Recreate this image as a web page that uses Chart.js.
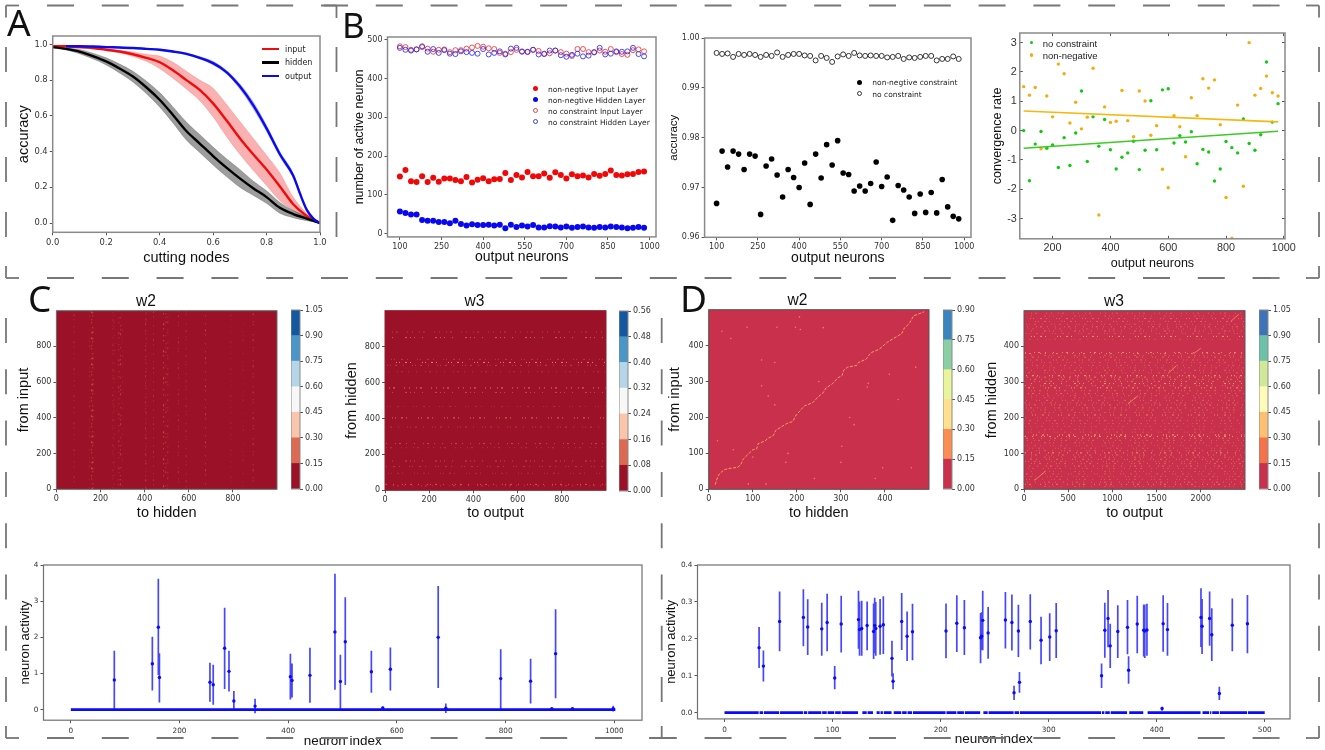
<!DOCTYPE html>
<html>
<head>
<meta charset="utf-8">
<title>figure</title>
<script src="https://cdn.jsdelivr.net/npm/chart.js"></script>
<style>
  html, body { margin: 0; padding: 0; background: #fff; }
  #fig { position: relative; width: 1325px; height: 750px; overflow: hidden; filter: blur(0.4px); }
  #fig canvas, #fig svg, #fig div { position: absolute; }
  #fig div { white-space: nowrap; line-height: 1; }
</style>
</head>
<body>
<div id="fig"></div>
<script>
// ---- A: accuracy vs cutting nodes
const cutX = [0,.05,.1,.15,.2,.25,.3,.35,.4,.45,.5,.55,.6,.65,.7,.75,.8,.85,.9,.95,1];
const inputMean = [.99,.99,.985,.98,.97,.96,.945,.925,.90,.855,.80,.745,.67,.575,.475,.385,.30,.205,.105,.04,0];
const inputHi = [.99,.992,.99,.985,.975,.967,.958,.945,.935,.90,.85,.80,.755,.665,.57,.475,.38,.28,.145,.055,0];
const inputLo = [.99,.988,.98,.975,.965,.953,.932,.905,.865,.81,.75,.685,.595,.485,.385,.295,.21,.125,.07,.025,0];
const hiddenMean = [.985,.975,.96,.935,.905,.865,.82,.76,.69,.605,.515,.445,.375,.31,.25,.195,.145,.085,.05,.025,0];
const hiddenHi = [.988,.981,.972,.951,.925,.89,.85,.795,.73,.65,.565,.495,.425,.36,.30,.235,.18,.115,.07,.037,0];
const hiddenLo = [.982,.969,.948,.919,.885,.84,.79,.725,.65,.56,.465,.395,.325,.26,.20,.155,.11,.055,.03,.013,0];
const outputX = [.05,.1,.15,.2,.25,.3,.35,.4,.45,.5,.55,.6,.65,.7,.75,.8,.85,.9,.925,.95,.975,1];
const outputMean = [.99,.99,.988,.985,.983,.98,.975,.97,.96,.947,.925,.895,.845,.765,.66,.53,.385,.265,.165,.075,.025,0];
const outputHi = [.991,.991,.99,.987,.985,.982,.978,.974,.965,.952,.932,.905,.855,.78,.68,.548,.40,.278,.173,.08,.028,0];
const outputLo = [.989,.989,.986,.983,.981,.978,.972,.966,.955,.942,.918,.885,.835,.75,.64,.512,.37,.252,.157,.07,.022,0];
const unitTicks = [0,.2,.4,.6,.8,1];

// ---- B: output neuron sweeps
const neurons = [100,120,140,160,180,200,220,240,260,280,300,320,340,360,380,400,420,440,460,480,500,520,540,560,580,600,620,640,660,680,700,720,740,760,780,800,820,840,860,880,900,920,940,960,980];
const nnInput = [147,164,135,133,148,133,144,134,142,142,138,135,146,132,139,143,135,140,141,156,138,151,145,159,148,148,155,144,158,151,142,153,148,150,145,154,149,154,163,151,150,153,154,159,160];
const nnHidden = [57,53,49,49,35,33,33,30,30,27,33,25,21,24,22,22,23,21,23,14,23,17,21,18,22,16,16,19,18,16,18,15,17,18,16,15,17,16,18,17,16,14,15,17,15];
const ncInput = [483,481,474,475,481,477,469,474,475,468,473,473,477,480,484,482,478,476,466,464,468,474,470,468,474,471,464,465,472,468,464,458,476,476,468,467,472,469,476,468,463,461,473,475,470];
const ncHidden = [479,474,472,475,483,469,476,466,473,464,463,470,468,466,464,476,462,466,470,462,477,479,469,469,474,462,463,472,472,460,456,461,464,457,459,468,479,462,464,470,469,470,479,463,457];
const accNonNeg = [.9668,.9773,.9741,.9773,.9767,.9736,.9767,.9763,.9646,.9743,.9757,.9725,.9681,.9736,.9720,.9700,.9749,.9666,.9767,.9719,.9786,.9745,.9794,.9729,.9726,.9693,.9703,.9693,.9708,.9751,.9702,.9721,.9634,.9704,.9695,.9681,.9648,.9687,.9650,.9690,.9649,.9716,.9661,.9642,.9637];
const accFree = [.9970,.9968,.9969,.9962,.9968,.9966,.9968,.9966,.9962,.9966,.9964,.9971,.9962,.9966,.9968,.9968,.9965,.9964,.9955,.9964,.9960,.9952,.9963,.9967,.9964,.9970,.9965,.9964,.9965,.9964,.9964,.9961,.9962,.9964,.9958,.9961,.9960,.9962,.9964,.9964,.9955,.9958,.9958,.9963,.9958];
const rateFree = [0,-1.71,-.46,-.03,-.60,-.49,-1.26,-.24,-1.19,-.08,1.35,-1.05,.47,-.53,.38,-.65,-1.31,-.91,-.76,-.36,-1.33,-.67,1.02,-.65,1.39,1.43,-.42,-.17,-.39,-.04,-1.13,-.64,-.73,-1.72,-1.31,-.37,-.58,-.76,.40,-.44,-.67,-.14,2.34,.29,.92];
const rateNonNeg = [1.50,1.21,1.47,-.62,1.18,.47,2.27,1.94,.26,.97,.06,.46,2.13,-2.88,.81,.28,.32,1.37,.34,-.21,1.35,1.01,-.16,.17,-1.32,-1.95,.51,.13,-.89,1.12,.51,1.77,1.45,1.73,.20,-2.28,-3.67,.87,-1.90,3.0,1.21,1.44,1.86,1.29,1.18];
const trendX = [100,980];
const trendFree = [-.60,-.02];
const trendNonNeg = [.67,.30];
const neuronTicks = [100,250,400,550,700,850,1000];

// ---- C / D: weight matrices (streak positions)
const cW2Cols = [80,150,160,165,256,262,283,291,300,404,407,440,486,496,505,553,588,676,791,846,892];
const cW2Strength = [.3,.2,.55,.55,.25,.2,.4,.4,.15,.3,.25,.3,.55,.35,.35,.3,.3,.4,.2,.2,.4];
const cW3Rows = [881,850,729,712,696,660,570,545,467,403,352,260,237,163,132,95,33,25];
const cW3Strength = [.3,.55,.3,.75,.35,.25,.7,.4,.2,.65,.3,.4,.25,.4,.3,.25,.5,.3];
const dW2DiagX = [15,20,25,36,46,65,72,79,89,100,109,112,127,136,147,152,165,177,191,197,208,217,236,248,260,266,281,293,303,306,315,336,340,357,368,387,406,425,438,444,455,465,489];
const dW2DiagY = [13,34,44,55,58,61,67,85,97,110,113,127,134,143,150,164,174,183,189,204,220,232,241,257,269,282,294,310,317,331,340,345,353,362,380,390,410,424,433,449,461,483,494];
const dW2SpotX = [87,197,206,155,208,150,30,120,362,302,120,56,250,378,90,175,130,300,150,360,50,410,20,460,260,135,240,320,180,395,430,470,100,330];
const dW2SpotY = [451,451,480,451,445,353,440,288,295,120,360,110,300,30,15,75,15,75,235,285,420,320,135,60,450,260,30,200,100,60,250,340,90,180];
const dW3Rows = [493,485,478,470,462,455,449,443,436,428,420,383,380,375,370,362,355,347,340,333,326,318,314,308,302,296,290,284,276,268,262,256,249,242,236,228,222,215,208,200,192,184,176,168,160,152,148,143,137,130,122,115,108,102,96,90,84,78,72,65,58,50,43,36,28,20,14,8];
const dW3Strength = [.35,.3,.45,.4,.3,.45,.3,.45,.3,.8,.25,.65,.6,.35,.45,.4,.3,.35,.3,.4,.3,.9,.55,.45,.5,.8,.45,.8,.4,.45,.35,.3,.4,.35,.45,.45,.35,.3,.65,.3,.4,.3,.25,.3,.3,.95,.8,.5,.35,.4,.3,.35,.4,.8,.45,.4,.45,.35,.4,.5,.3,.3,.35,.3,.35,.45,.55,.3];
const dW3DiagX = [120,240,1180,1290,1630,1720,1920,2000,2340,2430];
const dW3DiagY = [25,50,240,262,325,345,380,395,470,490];
const levelsC2 = [0,.15,.30,.45,.60,.75,.90,1.05];
const levelsC3 = [0,.08,.16,.24,.32,.40,.48,.56];
const levelsD2 = [0,.15,.30,.45,.60,.75,.90];
const levelsD3 = [0,.15,.30,.45,.60,.75,.90,1.05];
const colorsRdBu = ['#9b1127','#dc6a52','#fac5aa','#f7f7f7','#b5d6e8','#4a96c8','#14589f'];
const colorsSpec6 = ['#c9304c','#fc8d52','#fee08f','#e8f59a','#8acfa4','#3a85be'];
const colorsSpec7 = ['#c9304c','#f4734a','#fdbf70','#fefcb8','#cfe998','#6cc2a8','#3f72b6'];

// ---- bottom: neuron activity with error bars
const actIdxC = [80,150,161,163,256,262,283,291,300,339,404,407,440,486,496,505,553,574,588,676,690,791,846,885,892,923,998];
const actMeanC = [.82,1.27,2.28,.89,.76,.69,1.70,1.06,.24,.10,.91,.81,.95,2.15,.78,1.88,1.05,.05,1.12,2.0,.04,.86,.79,.03,1.55,.03,.03];
const actHiC = [1.63,2.02,3.62,1.56,1.30,1.24,2.82,1.63,.52,.30,1.55,1.28,1.71,3.76,1.52,3.11,1.63,.09,1.72,3.42,.17,1.67,1.41,.05,2.78,.06,.11];
const actLoC = [0,.53,.96,.20,.22,.14,.57,.50,0,-.10,.28,.34,.19,.55,0,.68,.47,0,.53,.60,-.09,0,.17,0,.32,0,-.05];
const baseC = [[0,1002]];
const actIdxD = [32,36,51,73,77,90,95,102,108,124,125,127,132,138,139,140,144,147,155,156,164,169,174,205,215,222,237,238,239,244,260,266,272,283,293,301,307,268,273,349,352,355,357,364,373,374,382,388,389,391,406,410,441,442,449,451,458,470,484,405];
const actMeanD = [.176,.126,.247,.258,.232,.227,.244,.094,.240,.252,.225,.228,.236,.22,.236,.228,.234,.238,.147,.085,.247,.207,.219,.221,.242,.23,.203,.207,.25,.216,.251,.244,.221,.247,.196,.205,.222,.054,.082,.10,.223,.255,.181,.22,.231,.115,.24,.223,.221,.224,.241,.225,.258,.234,.255,.211,.052,.237,.241,.011];
const actHiD = [.232,.168,.328,.334,.307,.298,.322,.126,.317,.33,.301,.303,.301,.296,.311,.30,.308,.315,.195,.107,.324,.274,.295,.296,.318,.305,.27,.272,.33,.286,.327,.32,.292,.321,.26,.269,.297,.073,.11,.133,.298,.332,.241,.291,.305,.153,.317,.293,.293,.295,.318,.297,.337,.308,.328,.283,.07,.309,.319,.016];
const actLoD = [.121,.084,.166,.18,.156,.154,.166,.063,.163,.173,.154,.154,.169,.145,.161,.154,.157,.159,.098,.063,.17,.14,.142,.147,.164,.156,.134,.169,.169,.146,.174,.168,.151,.171,.131,.14,.148,.034,.054,.067,.149,.177,.121,.148,.158,.078,.161,.152,.148,.154,.165,.154,.178,.159,.181,.14,.034,.166,.161,.005];
const baseD = [[0,31.6],[32.4,35.6],[36.4,50.6],[51.4,72.6],[73.4,76.6],[77.4,89.6],[90.4,94.6],[95.4,101.6],[102.4,107.6],[108.4,123.6],[127.6,131.6],[132.4,137.4],[140.8,143.6],[144.4,146.6],[147.4,154.6],[156.6,163.6],[164.4,168.6],[169.4,173.6],[174.4,204.6],[205.4,214.6],[215.4,221.6],[222.4,236.6],[239.6,243.6],[244.4,267.6],[268.4,272.6],[273.4,348.6],[349.4,351.6],[352.4,356.6],[357.4,372.6],[374.6,387.6],[391.6,440.6],[442.4,448.6],[449.4,450.6],[451.4,457.6],[458.4,483.6],[484.4,500]];

const DJ = '"DejaVu Sans"';
const LS = '"Liberation Sans"';
const fig = document.getElementById('fig');
const pts = (xs, ys) => xs.map((x, i) => ({ x, y: ys[i] }));

// outline + background of the plotting area
Chart.register({
  id: 'frame',
  beforeDatasetsDraw(chart, args, o) {
    if (!o.bg) return;
    const a = chart.chartArea;
    chart.ctx.fillStyle = o.bg;
    chart.ctx.fillRect(a.left, a.top, a.width, a.height);
  },
  afterDraw(chart, args, o) {
    const a = chart.chartArea, ctx = chart.ctx;
    ctx.strokeStyle = o.color || '#8a8a8a';
    ctx.lineWidth = o.width || 1.5;
    ctx.strokeRect(a.left, a.top, a.width, a.height);
  }
});

function axis(min, max, ticks, dec, fixed, o = {}) {
  return {
    type: 'linear', bounds: 'data', min, max, position: o.position,
    afterBuildTicks: s => { s.ticks = ticks.map(value => ({ value })); },
    afterFit: s => {
      if (s.isHorizontal()) s.height = fixed; else s.width = fixed;
      s.paddingLeft = s.paddingRight = s.paddingTop = s.paddingBottom = 0;
    },
    ticks: { autoSkip: false, maxRotation: 0, minRotation: 0, padding: o.tickPad === undefined ? 2 : o.tickPad, display: !o.noLabels,
      color: '#333', font: { family: o.tickFont || DJ, size: o.tickSize || 8 }, callback: v => v.toFixed(dec) },
    grid: { drawOnChartArea: false, tickLength: o.tickLen === undefined ? 3 : o.tickLen, color: '#555' },
    border: { display: false },
    title: o.title ? { display: true, text: o.title, padding: 0, color: '#111', font: { family: LS, size: o.titleSize || 14 } } : { display: false }
  };
}

// r = plot rect, g = gutters { xTitleY, yTitleX, size, xSize, right, top, left, bottom }
function panel(type, r, g, datasets, xa, ya, extra = {}) {
  const w = r.r - r.l, h = r.b - r.t;
  const ySize = g.size || 14, xSize = g.xSize || g.size || 14;
  const left = g.yTitleX ? r.l - (g.yTitleX - ySize * 0.6) : (g.left === undefined ? 30 : g.left);
  const bottom = g.xTitleY ? (g.xTitleY + xSize * 0.6) - r.b : (g.bottom === undefined ? 20 : g.bottom);
  const right = g.right === undefined ? 14 : g.right, top = g.top === undefined ? 8 : g.top;
  const c = document.createElement('canvas');
  c.width = Math.round(left + w + right); c.height = Math.round(top + h + bottom);
  c.style.left = (r.l - left) + 'px'; c.style.top = (r.t - top) + 'px';
  fig.appendChild(c);
  const scales = { x: xa(bottom), y: ya(left), ...(extra.scales || {}) };
  const plugins = { legend: { display: false }, tooltip: { enabled: false }, frame: extra.frame || {} };
  if (g.titleText) plugins.title = { display: true, text: g.titleText, padding: 0, color: '#111', font: { family: LS, size: top / 1.2, weight: 'normal' } };
  return new Chart(c, {
    type, data: extra.labels ? { labels: extra.labels, datasets } : { datasets },
    options: { responsive: false, animation: false, devicePixelRatio: 1,
      layout: { padding: { right: g.padRight === undefined ? right : g.padRight, top: g.titleText ? 0 : top, bottom: g.padBottom || 0 } },
      elements: { point: { radius: 0 }, line: { borderWidth: 1 } },
      scales, plugins }
  });
}

const dots = (label, xs, ys, color, radius, open, borderWidth) => ({
  label, data: pts(xs, ys), showLine: false, pointRadius: radius, pointBorderWidth: open ? (borderWidth || 1) : 0,
  pointBorderColor: color, pointBackgroundColor: open ? 'rgba(255,255,255,0)' : color
});
const curve = (xs, ys, color, width) => ({ data: pts(xs, ys), borderColor: color, borderWidth: width, cubicInterpolationMode: 'monotone', fill: false });
const band = (xs, hi, lo, fillColor, edge) => [
  { data: pts(xs, hi), borderColor: edge, borderWidth: .6, cubicInterpolationMode: 'monotone', backgroundColor: fillColor, fill: '+1' },
  { data: pts(xs, lo), borderColor: edge, borderWidth: .6, cubicInterpolationMode: 'monotone', fill: false }
];

function text(str, x, y, font, size, color = '#222') {
  const d = document.createElement('div');
  d.textContent = str;
  d.style.cssText = `left:${x}px;top:${y - size / 2}px;font:${size}px ${font};color:${color};`;
  fig.appendChild(d);
}
function mark(x, y, w, h, color, round, outline) {
  const d = document.createElement('div');
  d.style.cssText = `left:${x - w / 2}px;top:${y - h / 2}px;width:${w}px;height:${h}px;box-sizing:border-box;` +
    (outline ? `border:1px solid ${color};` : `background:${color};`) + (round ? 'border-radius:50%;' : '');
  fig.appendChild(d);
}

// ---------- A
panel('line', { l: 53, r: 320, t: 36, b: 232 }, { xTitleY: 258, yTitleX: 24, size: 14.5 }, [
  curve(outputX, outputMean, '#0a0aee', 2.4),
  curve(cutX, hiddenMean, '#000', 2.4),
  curve(cutX, inputMean, '#f00c0c', 2.4),
  ...band(outputX, outputHi, outputLo, 'rgba(40,40,230,.3)', 'rgba(40,40,230,.25)'),
  ...band(cutX, hiddenHi, hiddenLo, 'rgba(60,60,60,.5)', 'rgba(60,60,60,.45)'),
  ...band(cutX, inputHi, inputLo, 'rgba(240,70,70,.42)', 'rgba(230,70,70,.35)')
], b => axis(0, 1, unitTicks, 1, b, { title: 'cutting nodes', titleSize: 14.5, tickSize: 8.4 }),
   l => axis(-.052, 1.047, unitTicks, 1, l, { title: 'accuracy', titleSize: 14.5, tickSize: 8.4 }));
[['input', '#f00c0c'], ['hidden', '#000'], ['output', '#0a0aee']].forEach((row, i) => {
  mark(270.5, 48.7 + i * 13.7, 17, 2.4, row[1]);
  text(row[0], 285, 48.7 + i * 13.7, DJ, 8);
});

// ---------- B left
panel('line', { l: 387.3, r: 655.7, t: 37.3, b: 237.3 }, { xTitleY: 258, yTitleX: 359.3, size: 12.5, xSize: 14 }, [
  dots('nc hidden', neurons, ncHidden, 'rgba(30,30,240,.8)', 2.5, true),
  dots('nc input', neurons, ncInput, 'rgba(240,40,40,.8)', 2.5, true),
  dots('nn hidden', neurons, nnHidden, '#0808f0', 3),
  dots('nn input', neurons, nnInput, '#f00808', 3)
], b => axis(55.3, 1023, neuronTicks, 0, b, { title: 'output neurons', titleSize: 14 }),
   l => axis(-8.5, 507, [0,100,200,300,400,500], 0, l, { title: 'number of active neuron', titleSize: 12.5 }));
[['non-negtive Input Layer', '#f00808', false], ['non-negtive Hidden Layer', '#0808f0', false],
 ['no constraint Input Layer', 'rgba(240,40,40,.85)', true], ['no constraint Hidden Layer', 'rgba(30,30,240,.85)', true]].forEach((row, i) => {
  mark(535, 88.3 + i * 11.1, 5, 5, row[1], true, row[2]);
  text(row[0], 548, 88.3 + i * 11.1, DJ, 7.5);
});

// ---------- B middle
panel('line', { l: 704.7, r: 971, t: 37.7, b: 236.7 }, { xTitleY: 258, yTitleX: 674, size: 11.5, xSize: 14 }, [
  dots('free', neurons, accFree, '#333', 2.5, true),
  dots('non-neg', neurons, accNonNeg, '#000', 2.8)
], b => axis(56.4, 1024.7, neuronTicks, 0, b, { title: 'output neurons', titleSize: 14 }),
   l => axis(.96, 1.0, [.96,.97,.98,.99,1.0], 2, l, { title: 'accuracy', titleSize: 11.5 }));
mark(859, 82, 5, 5, '#000', true);
text('non-negtive constraint', 872.3, 82, DJ, 7.5);
mark(859, 93.3, 5, 5, '#333', true, true);
text('no constraint', 872.3, 93.3, DJ, 7.5);

// ---------- B right
const xB3 = b => axis(86.6, 1004, [200,400,600,800,1000], 0, b, { title: 'output neurons', titleSize: 12.5, tickFont: LS, tickSize: 10.8, tickLen: -3, tickPad: 6 });
const yB3 = l => axis(-3.69, 3.33, [-3,-2,-1,0,1,2,3], 0, l, { title: 'convergence rate', titleSize: 12.5, tickFont: LS, tickSize: 10.8, tickLen: -3, tickPad: 6 });
panel('line', { l: 1019.3, r: 1284, t: 32.7, b: 238.3 }, { xTitleY: 263, yTitleX: 997, size: 12.5 }, [
  { data: pts(trendX, trendNonNeg), borderColor: '#f4b80e', borderWidth: 1.6 },
  { data: pts(trendX, trendFree), borderColor: '#3ecb22', borderWidth: 1.6 },
  dots('no constraint', neurons, rateFree, '#12c912', 1.7),
  dots('non-negative', neurons, rateNonNeg, '#f2ac0c', 1.7)
], xB3, yB3, { scales: {
  x2: axis(86.6, 1004, [200,400,600,800,1000], 0, 0, { position: 'top', noLabels: true, tickLen: -3 }),
  y2: axis(-3.69, 3.33, [-3,-2,-1,0,1,2,3], 0, 0, { position: 'right', noLabels: true, tickLen: -3 })
} });
mark(1031.7, 42.7, 3.4, 3.4, '#12c912', true);
text('no constraint', 1042.7, 42.7, LS, 9.5);
mark(1031.7, 55, 3.4, 3.4, '#f2ac0c', true);
text('non-negative', 1042.7, 55, LS, 9.5);

// ---------- heatmaps
const dashSet = [[1,6,1,3,2,9,1,4],[1,3,1,7,1,12,2,3],[2,4,1,9,1,2,1,6],[1,2,1,5,2,3,1,11],[1,4,2,6,1,8,1,2],[1,8,1,3,2,5,1,7]];
const colStreak = (xs, strength, yMax, rgb, w) => xs.map((x, i) => ({
  data: [{ x, y: 0 }, { x, y: yMax }], borderColor: `rgba(${rgb},${strength[i]})`, borderWidth: w,
  borderDash: dashSet[i % dashSet.length], borderDashOffset: i * 3
}));
const rowStreak = (ys, strength, xMax, rgb, w) => ys.map((y, i) => ({
  data: [{ x: 0, y }, { x: xMax, y }], borderColor: `rgba(${rgb},${strength[i]})`, borderWidth: w,
  borderDash: dashSet[i % dashSet.length], borderDashOffset: i * 5
}));
function pairs(xs, ys) {
  const out = [];
  xs.forEach((x, i) => { out.push({ x, y: ys[i] }); if (i % 2) out.push({ x, y: null }); });
  return out;
}

function colorbar(l, w, t, b, levels, colors, dec) {
  panel('bar', { l, r: l + w, t, b }, { left: 0, right: 36, padRight: 0, bottom: 7, padBottom: 7, top: 6 },
    colors.map((c, i) => ({ data: [levels[i + 1] - levels[i]], backgroundColor: c, borderWidth: 0, barPercentage: 1, categoryPercentage: 1, stack: 's' })),
    () => ({ display: false, stacked: true }),
    () => ({ ...axis(0, levels[levels.length - 1], levels, dec, 36, { position: 'right' }), stacked: true }),
    { labels: [''], frame: { color: '#8a8a8a', width: 1 } });
}
function heatTitleAxisX(max, ticks, title) { return b => axis(0, max, ticks, 0, b, { title, titleSize: 14.5 }); }
function heatTitleAxisY(max, ticks, title) { return l => axis(0, max, ticks, 0, l, { title, titleSize: 14.5 }); }
const t1000 = [0,200,400,600,800];
const t500 = [0,100,200,300,400];

panel('line', { l: 56.7, r: 277.3, t: 310.3, b: 489 }, { xTitleY: 513, yTitleX: 24, size: 14.5, top: 18.7, titleText: 'w2' },
  colStreak(cW2Cols, cW2Strength, 1000, '244,140,100', 1),
  heatTitleAxisX(1000, t1000, 'to hidden'), heatTitleAxisY(1000, t1000, 'from input'),
  { frame: { bg: colorsRdBu[0], color: '#66706a', width: 1 } });
colorbar(291, 8.5, 310.3, 489, levelsC2, colorsRdBu, 2);

panel('line', { l: 385, r: 606, t: 311, b: 491 }, { xTitleY: 514, yTitleX: 351.7, size: 14.5, top: 18.7, titleText: 'w3' },
  rowStreak(cW3Rows, cW3Strength, 1000, '250,170,140', 1),
  heatTitleAxisX(1000, t1000, 'to output'), heatTitleAxisY(1000, t1000, 'from hidden'),
  { frame: { bg: colorsRdBu[0], color: '#8b2030', width: 1 } });
colorbar(619.3, 9, 311, 491, levelsC3, colorsRdBu, 2);

panel('line', { l: 709, r: 929.7, t: 309.7, b: 489 }, { xTitleY: 513, yTitleX: 675, size: 14.5, top: 18.7, titleText: 'w2' }, [
  { data: pts(dW2DiagX, dW2DiagY), borderColor: 'rgba(250,170,100,.9)', borderWidth: 1, borderDash: [3,1.5] },
  dots('spots', dW2SpotX, dW2SpotY, 'rgba(245,140,100,.85)', 0.8)
], heatTitleAxisX(500, t500, 'to hidden'), heatTitleAxisY(500, t500, 'from input'),
  { frame: { bg: colorsSpec6[0], color: '#555', width: 1 } });
colorbar(943.3, 8.7, 309.7, 489, levelsD2, colorsSpec6, 2);

panel('line', { l: 1024.3, r: 1245, t: 310.3, b: 489 }, { xTitleY: 513, yTitleX: 992, size: 14.5, top: 18.7, titleText: 'w3' }, [
  { data: pairs(dW3DiagX, dW3DiagY), borderColor: 'rgba(250,185,115,.6)', borderWidth: 1, spanGaps: false },
  ...rowStreak(dW3Rows, dW3Strength, 2500, '250,185,115', 1)
], heatTitleAxisX(2500, [0,500,1000,1500,2000], 'to output'), heatTitleAxisY(500, t500, 'from hidden'),
  { frame: { bg: colorsSpec7[0], color: '#555', width: 1 } });
colorbar(1258.7, 9, 310.3, 489, levelsD3, colorsSpec7, 2);

// ---------- activity panels
function errBars(xs, lo, hi) {
  const out = [];
  xs.forEach((x, i) => { out.push({ x, y: lo[i] }, { x, y: hi[i] }, { x, y: null }); });
  return out;
}
function segments(segs) {
  const out = [];
  segs.forEach(s => { out.push({ x: s[0], y: 0 }, { x: s[1], y: 0 }, { x: s[1], y: null }); });
  return out;
}
function activity(r, g, xs, mean, lo, hi, base, xa, ya) {
  panel('line', r, g, [
    dots('mean', xs, mean, '#0a0aff', 1.7),
    { data: segments(base), borderColor: '#0a0aff', borderWidth: 2.7, spanGaps: false },
    { data: errBars(xs, lo, hi), borderColor: 'rgba(25,25,250,.8)', borderWidth: 1.7, spanGaps: false }
  ], xa, ya, { frame: { color: '#707070', width: 1.2 } });
}
activity({ l: 43.7, r: 641.7, t: 565.3, b: 720.3 }, { xTitleY: 741, yTitleX: 26, size: 13, xSize: 13.5 },
  actIdxC, actMeanC, actLoC, actHiC, baseC,
  b => axis(-50.3, 1051, [0,200,400,600,800,1000], 0, b, { title: 'neuron index', titleSize: 13.5, tickPad: 4, tickSize: 7.3 }),
  l => axis(-.29, 4, [0,1,2,3,4], 0, l, { title: 'neuron activity', titleSize: 13, tickSize: 7.3 }));
activity({ l: 697.7, r: 1290, t: 565.3, b: 719 }, { xTitleY: 739, yTitleX: 672, size: 13, xSize: 13.5 },
  actIdxD, actMeanD, actLoD, actHiD, baseD,
  b => axis(-25, 523.4, [0,100,200,300,400,500], 0, b, { title: 'neuron index', titleSize: 13.5, tickPad: 4, tickSize: 7.3 }),
  l => axis(-.017, .4, [0,.1,.2,.3,.4], 1, l, { title: 'neuron activity', titleSize: 13, tickSize: 7.3 }));

// ---------- panel letters
text('A', 7, 14, '"Noto Sans"', 37, '#111');
text('B', 342, 18, '"Noto Sans"', 35, '#111');
text('C', 28, 290, '"Noto Sans"', 37, '#111');
text('D', 680, 290, '"Noto Sans"', 37, '#111');

// ---------- dashed separators
const NS = 'http://www.w3.org/2000/svg';
const svg = document.createElementNS(NS, 'svg');
svg.setAttribute('width', 1325); svg.setAttribute('height', 750);
svg.style.left = '0'; svg.style.top = '0';
function rule(x1, y1, x2, y2, dash) {
  const l = document.createElementNS(NS, 'line');
  Object.entries({ x1, y1, x2, y2, stroke: '#777', 'stroke-width': 1.8 }).forEach(([k, v]) => l.setAttribute(k, v));
  if (dash) l.setAttribute('stroke-dasharray', dash);
  svg.appendChild(l);
}
const dashH = '27 27.8', dashTop = '25 30', dashLow = '25 26.3';
[5.5, 278, 738].forEach(y => rule(47, y, 1290, y, dashH));
[6, 336.5, 1319].forEach(x => rule(x, 47, x, 240, dashTop));
[6, 661.7, 1319].forEach(x => rule(x, 318, x, 710, dashLow));
[[6, 5.5, 1, 1], [1319, 5.5, -1, 1], [6, 278, 1, -1], [1319, 278, -1, -1], [6, 738, 1, -1], [1319, 738, -1, -1]].forEach(c => {
  rule(c[0], c[1], c[0] + c[2] * 13, c[1]);
  rule(c[0], c[1], c[0], c[1] + c[3] * 12);
});
rule(324, 5.5, 336.5, 5.5); rule(336.5, 5.5, 336.5, 18);
rule(649, 738, 675, 738); rule(661.7, 726, 661.7, 738);
fig.appendChild(svg);
</script>
</body>
</html>
